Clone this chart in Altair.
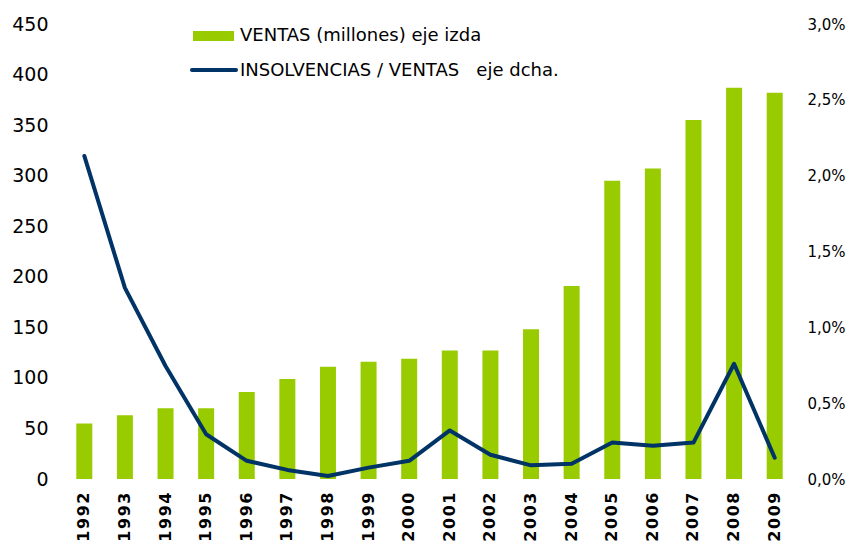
import altair as alt
import pandas as pd

years = [str(y) for y in range(1992, 2010)]
ventas = [55, 63, 70, 70, 86, 99, 111, 116, 119, 127, 127, 148, 191, 295, 307, 355, 387, 382]
ratio = [2.13, 1.26, 0.745, 0.295, 0.12, 0.06, 0.02, 0.075, 0.12, 0.32, 0.16, 0.09, 0.10, 0.24, 0.22, 0.24, 0.76, 0.14]

legend_ventas = "VENTAS (millones) eje izda"
legend_ratio = "INSOLVENCIAS / VENTAS\u00a0\u00a0\u00a0eje dcha."

GREEN = "#99cc00"
NAVY = "#003366"
FONT = "DejaVu Sans"

df = pd.DataFrame({"year": years, "ventas": ventas, "ratio": ratio})

x = alt.X("year:N", sort=years, title=None,
          scale=alt.Scale(paddingInner=0, paddingOuter=0),
          axis=alt.Axis(labelAngle=270, labelFont=FONT, labelFontWeight="bold",
                        labelFontSize=16, labelColor="#000000", ticks=False, domain=False,
                        labelPadding=13, labelBaseline="middle", labelAlign="right",
                        labelExpr="join(split(datum.label, ''), '\u200a')"))

bars = alt.Chart(df).mark_bar(color=GREEN, size=16).encode(
    x=x,
    y=alt.Y("ventas:Q", title=None,
            scale=alt.Scale(domain=[0, 450], nice=False),
            axis=alt.Axis(values=list(range(0, 451, 50)), grid=False, ticks=False, domain=False,
                          labelFont=FONT, labelFontSize=19, labelColor="#000000", labelPadding=16)),
)

line = alt.Chart(df).mark_line(color=NAVY, strokeWidth=4, strokeCap="round", strokeJoin="round").encode(
    x=x,
    y=alt.Y("ratio:Q", title=None,
            scale=alt.Scale(domain=[0, 3], nice=False),
            axis=alt.Axis(orient="right", values=[0, 0.5, 1, 1.5, 2, 2.5, 3], grid=False, ticks=False,
                          domain=False, labelFont=FONT, labelFontSize=15, labelColor="#000000",
                          labelPadding=12,
                          labelExpr="replace(format(datum.value, '.1f'), '.', ',') + '%'")),
)

one = pd.DataFrame({"k": [0]})
sw1 = alt.Chart(one).mark_rect(color=GREEN).encode(
    x=alt.value(129), x2=alt.value(170), y=alt.value(7), y2=alt.value(17))
sw2 = alt.Chart(one).mark_rule(color=NAVY, strokeWidth=4, strokeCap="round").encode(
    x=alt.value(128), x2=alt.value(172), y=alt.value(46))
t1 = alt.Chart(one).mark_text(text=legend_ventas, font=FONT, fontSize=18, align="left",
                              baseline="middle", color="#000000").encode(
    x=alt.value(176), y=alt.value(12))
t2 = alt.Chart(one).mark_text(text=legend_ratio, font=FONT, fontSize=18, align="left",
                              baseline="middle", color="#000000").encode(
    x=alt.value(176), y=alt.value(47))

chart = alt.layer(bars, line, sw1, sw2, t1, t2).resolve_scale(y="independent").properties(
    width=731, height=455,
    autosize=alt.AutoSizeParams(type="none"),
    padding={"left": 56, "top": 16, "right": 52, "bottom": 70},
).configure_view(stroke=None)

chart.save("out.html", embed_options={"renderer": "svg", "actions": False})
